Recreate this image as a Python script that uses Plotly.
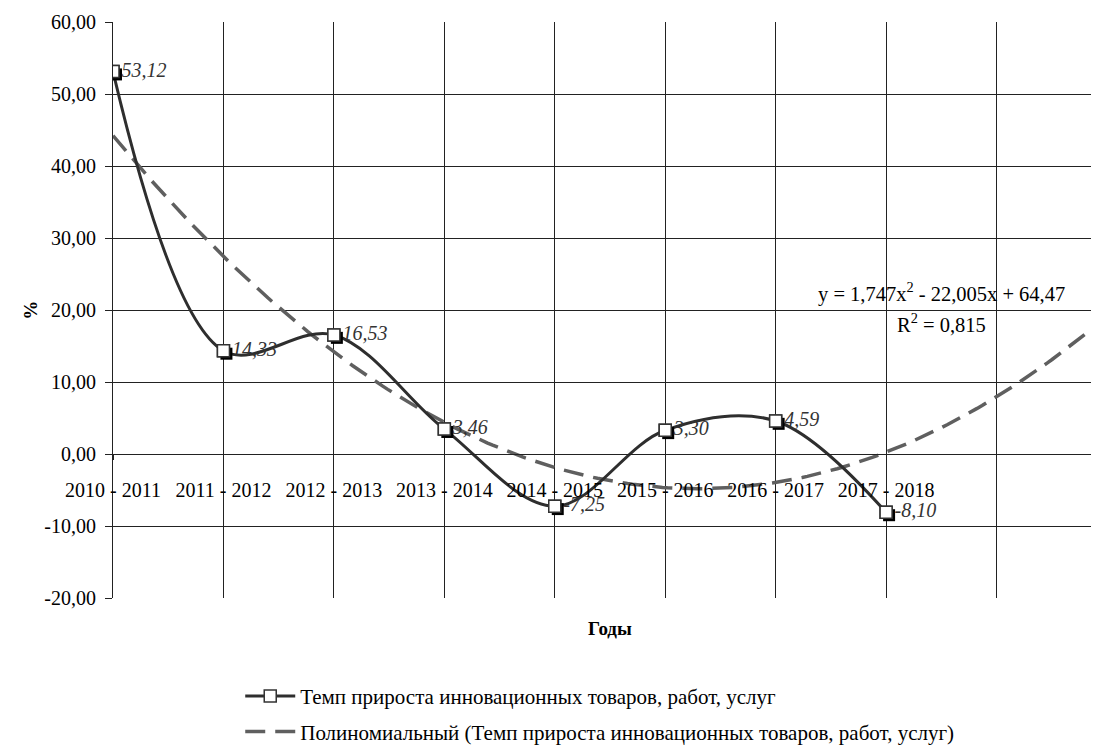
import numpy as np
import plotly.graph_objects as go

periods = ["2010 - 2011", "2011 - 2012", "2012 - 2013", "2013 - 2014",
           "2014 - 2015", "2015 - 2016", "2016 - 2017", "2017 - 2018"]
growth = [53.12, 14.33, 16.53, 3.46, -7.25, 3.30, 4.59, -8.10]
labels = ["53,12", "14,33", "16,53", "3,46", "-7,25", "3,30", "4,59", "-8,10"]
y_ticks = [-20, -10, 0, 10, 20, 30, 40, 50, 60]
series_name = "Темп прироста инновационных товаров, работ, услуг"
trend_name = "Полиномиальный (Темп прироста инновационных товаров, работ, услуг)"

FONT = "Liberation Serif"

x = np.arange(1, len(growth) + 1)
# second-order polynomial trend, forecast two periods forward
coef = np.polyfit(x, growth, 2)
xt = np.linspace(1, len(growth) + 2, 200)
yt = np.polyval(coef, xt)

fig = go.Figure()

fig.add_trace(go.Scatter(
    x=xt, y=yt, mode="lines", name=trend_name, legend="legend2",
    line=dict(color="#5f5f5f", width=3.5, dash="20px,10px"),
))

fig.add_trace(go.Scatter(
    x=x, y=growth, mode="lines+markers", name=series_name,
    line=dict(color="#2e2e2e", width=3, shape="spline", smoothing=1),
    marker=dict(symbol="square", size=12, color="white",
                line=dict(color="#333333", width=1.5)),
))

# marker shadow (offset a few pixels right / down)
fig.add_trace(go.Scatter(
    x=x + 0.027, y=np.array(growth) - 0.4, mode="markers", showlegend=False,
    marker=dict(symbol="square", size=12, color="black"), hoverinfo="skip",
))

fig.add_trace(go.Scatter(
    x=x, y=growth, mode="markers+text", showlegend=False,
    text=labels, textposition="middle right",
    textfont=dict(family=FONT, size=20, color="#333333", style="italic"),
    marker=dict(symbol="square", size=12, color="white",
                line=dict(color="#333333", width=1.5)),
))

fig.add_annotation(
    x=8.5, y=22.5, xref="x", yref="y", showarrow=False,
    text="y = 1,747x<sup>2</sup> - 22,005x + 64,47",
    font=dict(family=FONT, size=20.5, color="black"),
)
fig.add_annotation(
    x=8.5, y=18.2, xref="x", yref="y", showarrow=False,
    text="R<sup>2</sup> = 0,815",
    font=dict(family=FONT, size=20.5, color="black"),
)
fig.add_annotation(
    x=0.5, y=-0.075, xref="paper", yref="paper", showarrow=False,
    text="<b>Годы</b>", font=dict(family=FONT, size=19, color="black"),
)
fig.add_annotation(
    x=-0.0963, y=0.5, xref="paper", yref="paper", showarrow=False,
    text="<b>%</b>", textangle=-90, font=dict(family=FONT, size=19, color="black"),
)

legend_style = dict(xanchor="left", yanchor="top", font=dict(family=FONT, size=21),
                    itemwidth=50, bgcolor="rgba(0,0,0,0)")

fig.update_layout(
    width=1099, height=747,
    margin=dict(l=105, r=0, t=14, b=157, autoexpand=False),
    plot_bgcolor="white", paper_bgcolor="white",
    font=dict(family=FONT, size=20, color="black"),
    showlegend=True,
    legend=dict(x=0.128, y=-0.135, **legend_style),
    legend2=dict(x=0.128, y=-0.197, **legend_style),
    xaxis=dict(
        range=[1, 10], tickvals=list(range(1, 11)),
        ticktext=periods + ["", ""],
        tickfont=dict(family=FONT, size=20, color="black"),
        showgrid=True, gridcolor="#222222", gridwidth=1,
        anchor="free", position=0.25, automargin=False,
        showline=True, linecolor="#222222", ticks="outside", ticklen=5,
        tickcolor="#222222", zeroline=False, ticklabelstandoff=13,
    ),
    yaxis=dict(
        range=[-20, 60], tickvals=y_ticks,
        ticktext=[f"{v:.2f}".replace(".", ",") for v in y_ticks],
        tickfont=dict(family=FONT, size=20, color="black"),
        showgrid=True, gridcolor="#222222", gridwidth=1, automargin=False,
        showline=True, linecolor="#222222", ticks="outside", ticklen=7,
        tickcolor="#222222", zeroline=False, ticklabelstandoff=5,
    ),
)

fig.write_html("out.html")
